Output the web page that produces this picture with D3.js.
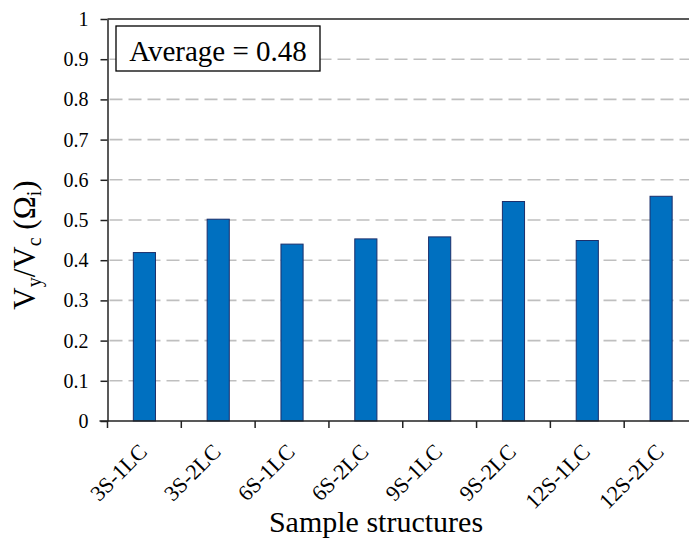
<!DOCTYPE html>
<html>
<head>
<meta charset="utf-8">
<script src="https://cdn.jsdelivr.net/npm/d3@7"></script>
</head>
<body>
<svg id="chart" width="689" height="545"></svg>
<script>
const categories = ["3S-1LC", "3S-2LC", "6S-1LC", "6S-2LC", "9S-1LC", "9S-2LC", "12S-1LC", "12S-2LC"];
const ratios = [0.419, 0.502, 0.440, 0.453, 0.458, 0.546, 0.449, 0.559];
const yTicks = [0, 0.1, 0.2, 0.3, 0.4, 0.5, 0.6, 0.7, 0.8, 0.9, 1];
const yTickLabels = ["0", "0.1", "0.2", "0.3", "0.4", "0.5", "0.6", "0.7", "0.8", "0.9", "1"];
const averageLabel = "Average = 0.48";

const serifFont = "Liberation Serif";
d3.select('body').style("margin", "0px").style("background", "#fff");
const svg = d3.select('#chart')
    .style("display", "block")
    .attr("font-family", serifFont);
const plotLeft = 107.5;
const plotRight = 698;
const plotTop = 19;
const plotBottom = 421;

const x = d3.scaleBand()
    .domain(categories)
    .range([plotLeft, plotRight])
    .paddingInner(0.7)
    .paddingOuter(0.35);

const y = d3.scaleLinear()
    .domain([0, 1])
    .range([plotBottom, plotTop]);

// dashed gridlines, skipping 0 and the top border
svg.append("g")
    .selectAll("line")
    .data(yTicks.filter(d => d > 0 && d < 1))
    .join("line")
    .attr("x1", plotLeft + 2)
    .attr("x2", plotRight)
    .attr("y1", d => y(d))
    .attr("y2", d => y(d))
    .attr("stroke", "#bfbfbf")
    .attr("stroke-width", 1.6)
    .attr("stroke-dasharray", "13,6");

// top border
svg.append("line")
    .attr("x1", plotLeft)
    .attr("x2", plotRight)
    .attr("y1", y(1))
    .attr("y2", y(1))
    .attr("stroke", "#222")
    .attr("stroke-width", 1.5);

svg.append("g")
    .selectAll("rect")
    .data(ratios)
    .join("rect")
    .attr("x", (d, i) => x(categories[i]))
    .attr("y", d => y(d))
    .attr("width", x.bandwidth())
    .attr("height", d => y(0) - y(d))
    .attr("fill", "#0070c0")
    .attr("stroke", "#1c2f6b")
    .attr("stroke-width", 1);

const yAxis = svg.append("g")
    .attr("transform", `translate(${plotLeft},0)`)
    .call(d3.axisLeft(y)
        .tickValues(yTicks)
        .tickFormat((d, i) => yTickLabels[i])
        .tickSize(7)
        .tickSizeOuter(0)
        .tickPadding(12))
    .attr("font-family", serifFont)
    .attr("font-size", 20);
yAxis.select(".domain").attr("stroke", "#222").attr("stroke-width", 1.5);
yAxis.selectAll(".tick line").attr("stroke", "#222").attr("stroke-width", 1.5);
yAxis.selectAll("text")
    .style("font-family", serifFont)
    .attr("fill", "#000");

const xAxis = svg.append("g")
    .attr("transform", `translate(0,${plotBottom})`)
    .call(d3.axisBottom(x).tickSize(0).tickSizeOuter(0).tickPadding(0))
    .attr("font-family", serifFont)
    .attr("font-size", 22);
xAxis.select(".domain")
    .attr("d", `M${plotLeft - 8},0H${plotRight}`)
    .attr("stroke", "#222")
    .attr("stroke-width", 1.5);
xAxis.selectAll(".tick text")
    .style("font-family", serifFont)
    .attr("fill", "#000")
    .attr("text-anchor", "end")
    .attr("dy", null)
    .attr("y", null)
    .attr("transform", "translate(4,32) rotate(-45)");

// category boundary ticks
svg.append("g")
    .selectAll("line")
    .data(d3.range(categories.length + 1))
    .join("line")
    .attr("x1", i => plotLeft + i * x.step())
    .attr("x2", i => plotLeft + i * x.step())
    .attr("y1", plotBottom)
    .attr("y2", plotBottom + 7)
    .attr("stroke", "#222")
    .attr("stroke-width", 1.5);

// average box
svg.append("rect")
    .attr("x", 116)
    .attr("y", 26)
    .attr("width", 204)
    .attr("height", 45)
    .attr("fill", "#fff")
    .attr("stroke", "#000")
    .attr("stroke-width", 1.3);
svg.append("text")
    .attr("x", 218)
    .attr("y", 61)
    .attr("text-anchor", "middle")
    .attr("font-size", 29)
    .style("font-family", serifFont)
    .text(averageLabel);

svg.append("text")
    .attr("x", 376)
    .attr("y", 532)
    .attr("text-anchor", "middle")
    .attr("font-size", 30)
    .style("font-family", serifFont)
    .text("Sample structures");

const yLabel = svg.append("text")
    .attr("transform", "translate(35,245) rotate(-90)")
    .attr("text-anchor", "middle")
    .attr("font-size", 31)
    .style("font-family", serifFont);
yLabel.append("tspan").text("V");
yLabel.append("tspan").attr("font-size", 20).attr("dy", 6).text("y");
yLabel.append("tspan").attr("dy", -6).text("/V");
yLabel.append("tspan").attr("font-size", 20).attr("dy", 6).text("c");
yLabel.append("tspan").attr("dy", -6).text(" (Ω");
yLabel.append("tspan").attr("font-size", 20).attr("dy", 6).text("i");
yLabel.append("tspan").attr("dy", -6).text(")");
</script>
</body>
</html>
